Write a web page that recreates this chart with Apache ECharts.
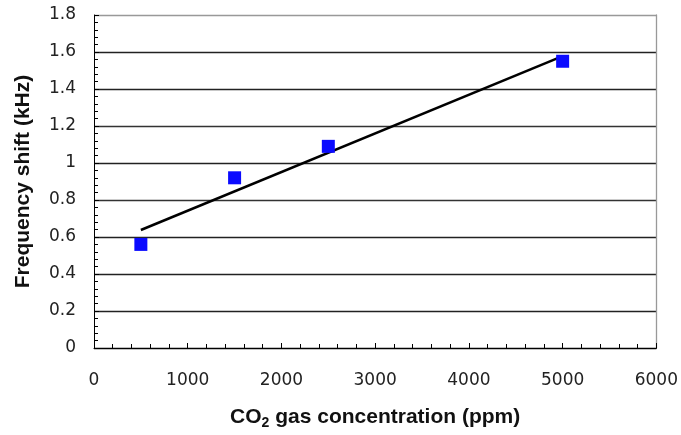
<!DOCTYPE html>
<html>
<head>
<meta charset="utf-8">
<script src="https://cdn.jsdelivr.net/npm/echarts@6/dist/echarts.min.js"></script>
<style>html,body{margin:0;padding:0;background:#fff;}#c{width:681px;height:435px;}</style>
</head>
<body>
<div id="c"></div>
<script>
var concentration = [500, 1500, 2500, 5000];
var frequencyShift = [0.56, 0.92, 1.09, 1.55];
var trendX = [500, 5000];
var trendY = [0.638, 1.578];

var chart = echarts.init(document.getElementById('c'), null, {renderer: 'canvas'});
var labelFont = {fontFamily: 'DejaVu Sans', fontSize: 17, color: '#222'};
chart.setOption({
  animation: false,
  backgroundColor: '#fff',
  grid: {left: 94, right: 24, top: 15, bottom: 87, containLabel: false},
  xAxis: {
    type: 'value', min: 0, max: 6000, interval: 1000,
    name: '{b|CO}{s|2}{b| gas concentration (ppm)}',
    nameLocation: 'middle', nameGap: 56,
    nameTextStyle: {
      rich: {
        b: {fontFamily: 'Liberation Sans', fontWeight: 'bold', fontSize: 21, color: '#111'},
        s: {fontFamily: 'Liberation Sans', fontWeight: 'bold', fontSize: 14, color: '#111', verticalAlign: 'bottom', padding: [12, 0, 0, 0]}
      }
    },
    axisLine: {show: true, lineStyle: {color: '#000', width: 1}},
    axisTick: {show: true, inside: true, length: 5, lineStyle: {color: '#000'}},
    minorTick: {show: true, splitNumber: 5, length: 4, lineStyle: {color: '#000'}},
    axisLabel: Object.assign({margin: 24, formatter: function (v) { return String(v); }}, labelFont),
    splitLine: {show: false}
  },
  yAxis: [{
    type: 'value', min: 0, max: 1.8, interval: 0.2,
    name: 'Frequency shift (kHz)',
    nameLocation: 'middle', nameGap: 60,
    nameTextStyle: {fontFamily: 'Liberation Sans', fontWeight: 'bold', fontSize: 21, color: '#111'},
    axisLine: {show: true, lineStyle: {color: '#000', width: 1}},
    axisTick: {show: true, inside: true, length: 5, lineStyle: {color: '#000'}},
    minorTick: {show: true, splitNumber: 5, length: 4, lineStyle: {color: '#000'}},
    axisLabel: Object.assign({margin: 18}, labelFont),
    splitLine: {show: true, lineStyle: {color: ['#000','#222','#222','#222','#333','#222','#333','#222','#222','#999'], width: 1.3}}
  }, {
    type: 'value', min: 0, max: 1.8, interval: 0.2, position: 'right',
    axisLine: {show: true, lineStyle: {color: '#999', width: 1.3}},
    axisTick: {show: false}, axisLabel: {show: false}, splitLine: {show: false}
  }],
  series: [{
    type: 'line',
    data: trendX.map(function (x, i) { return [x, trendY[i]]; }),
    showSymbol: false, symbol: 'none',
    lineStyle: {color: '#000', width: 2.5},
    z: 2
  }, {
    type: 'scatter',
    data: concentration.map(function (x, i) { return [x, frequencyShift[i]]; }),
    symbol: 'rect', symbolSize: 13,
    itemStyle: {color: '#0a0aff', opacity: 1},
    z: 3
  }]
});
</script>
</body>
</html>
